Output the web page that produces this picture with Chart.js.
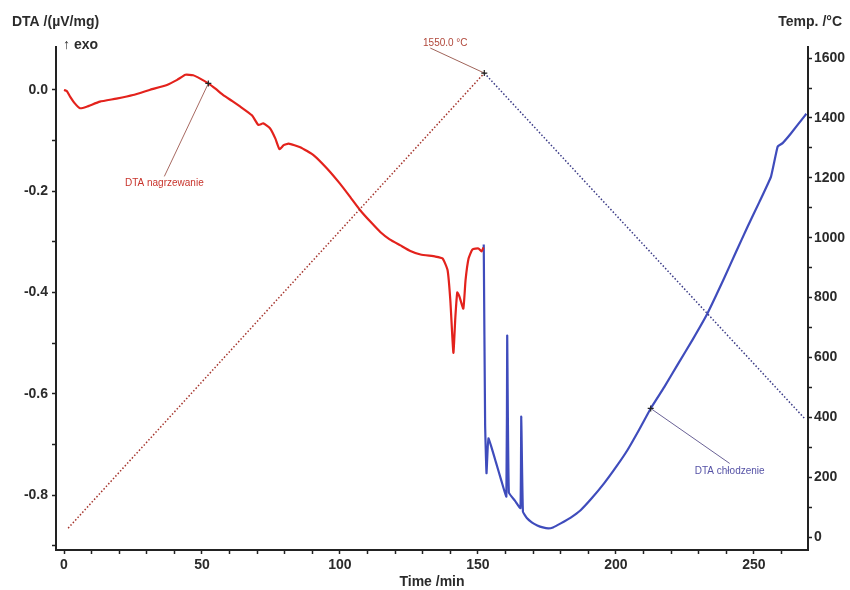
<!DOCTYPE html>
<html>
<head>
<meta charset="utf-8">
<script src="https://cdn.jsdelivr.net/npm/chart.js@4.4.0/dist/chart.umd.min.js"></script>
<style>
  html, body { margin: 0; padding: 0; background: #fff; }
  #wrap { width: 850px; height: 590px; }
</style>
</head>
<body>
<div id="wrap"><canvas id="dtaChart" width="850" height="590"></canvas></div>
<script>
/* ---------- data ---------- */
// DTA signal while heating (µV/mg)
const heatTime = [0, 1, 2.2, 4, 5.8, 8.2, 13, 19, 25, 31, 37.3, 41, 44, 46.8, 49.5, 52.3, 55, 57.7, 61, 63.9,
  68.1, 70.4, 72.2, 74.7, 76.6, 78.1, 79.6, 81.4, 85.6, 90.5, 95.3, 100, 103.8, 107.4, 111, 114.7, 118, 121.9,
  125.5, 129.2, 134.6, 137.2, 139, 140, 141.1, 141.8, 142.5, 143.3, 144.7, 145.5, 146.6, 148, 150.2, 151.3, 152];
const heatDta = [0.0, -0.002, -0.013, -0.027, -0.036, -0.033, -0.023, -0.017, -0.01, 0.0, 0.01, 0.02, 0.03, 0.029,
  0.022, 0.013, 0.002, -0.01, -0.022, -0.033, -0.05, -0.069, -0.066, -0.076, -0.096, -0.117, -0.109, -0.106, -0.113,
  -0.129, -0.155, -0.185, -0.212, -0.238, -0.26, -0.281, -0.295, -0.307, -0.318, -0.325, -0.329, -0.333, -0.356,
  -0.416, -0.519, -0.45, -0.4, -0.408, -0.432, -0.376, -0.333, -0.315, -0.313, -0.319, -0.311];

// DTA signal while cooling
const coolTime = [152.1, 152.6, 153.1, 153.8, 156.5, 158.5, 160.3, 160.6, 161.2, 163.5, 165.4, 165.7, 166.3, 167.8,
  169.5, 171.5, 173.5, 175.5, 177.2, 180, 183.5, 187.2, 191.3, 195.7, 200, 204.2, 208.4, 212.6, 217.5, 222.3, 227.8,
  233.2, 239.2, 243.5, 247.7, 252, 256.2, 258.6, 260.4, 263.4, 267.7, 269];
const coolDta = [-0.305, -0.66, -0.757, -0.688, -0.735, -0.772, -0.803, -0.485, -0.795, -0.812, -0.826, -0.645, -0.833,
  -0.846, -0.854, -0.86, -0.864, -0.866, -0.864, -0.856, -0.845, -0.83, -0.806, -0.777, -0.745, -0.711, -0.671, -0.629,
  -0.587, -0.543, -0.493, -0.441, -0.372, -0.32, -0.27, -0.221, -0.171, -0.112, -0.105, -0.086, -0.056, -0.047];

// furnace temperature programme (°C)
const heatTempTime = [1.5, 152.3];
const heatTemp = [30, 1550];
const coolTempTime = [152.3, 268.5];
const coolTemp = [1550, 395];

// labelled axis values
const timeTicks = [0, 50, 100, 150, 200, 250];
const dtaTicks = [0.0, -0.2, -0.4, -0.6, -0.8];
const tempTicks = [0, 200, 400, 600, 800, 1000, 1200, 1400, 1600];

// annotated points on the curves
const noteText = ['DTA nagrzewanie', '1550.0 \u00B0C', 'DTA ch\u0142odzenie'];
const noteTime = [52.3, 152.3, 212.6];
const noteValue = [0.013, 1550, -0.629];
const noteAxis = ['y', 'y2', 'y'];

/* ---------- look ---------- */
const RED = '#e3221c';
const BLUE = '#3f4cbc';
const AXIS = '#222';
const TXT = '#2b2b2b';
const tickFont = { family: 'Arial, "Liberation Sans", sans-serif', size: 14, weight: 'bold' };

// label box offsets from the anchor point: text centre and leader end
const noteLayout = [
  { dx: -44, dy: 100, lx: -44, ly: 93, color: '#c8342c', line: '#a86a62' },
  { dx: -39, dy: -30, lx: -54, ly: -25, color: '#b0473a', line: '#a0645a' },
  { dx: 79, dy: 63, lx: 79, ly: 55, color: '#5552a6', line: '#6a6296' }
];

function pts(xs, ys) { return xs.map((x, i) => ({ x, y: ys[i] })); }

function stepTicks(from, to, step) {
  const out = [];
  for (let v = from; v <= to + step / 1000; v += step) out.push({ value: Math.round(v * 1000) / 1000 });
  return out;
}
function isMajor(list, v) { return list.some(m => Math.abs(m - v) < 1e-6); }

const axisBase = {
  border: { display: true, color: AXIS, width: 2 },
  grid: { display: true, drawOnChartArea: false, drawTicks: true, tickLength: 4, tickWidth: 1.5, tickColor: AXIS },
};

/* ---------- extra drawing: titles and labels ---------- */
const decorPlugin = {
  id: 'decor',
  beforeDraw(chart) {
    const c = chart.ctx;
    c.save();
    c.fillStyle = '#fff';
    c.fillRect(0, 0, chart.width, chart.height);
    c.restore();
  },
  afterDraw(chart) {
    const c = chart.ctx;
    const area = chart.chartArea;
    c.save();
    c.fillStyle = TXT;
    c.textBaseline = 'middle';
    c.font = 'bold 14px Arial, "Liberation Sans", sans-serif';
    c.textAlign = 'left';
    c.fillText('DTA /(\u00B5V/mg)', 12, 22);
    c.fillText('\u2191 exo', 63, 45);
    c.textAlign = 'right';
    c.fillText('Temp. /\u00B0C', 842, 22);
    c.textAlign = 'center';
    c.fillText('Time /min', (area.left + area.right) / 2, 582);

    // notes with leader lines
    noteText.forEach((txt, i) => {
      const lay = noteLayout[i];
      const px = chart.scales.x.getPixelForValue(noteTime[i]);
      const py = chart.scales[noteAxis[i]].getPixelForValue(noteValue[i]);
      c.strokeStyle = lay.line;
      c.lineWidth = 1;
      c.beginPath();
      c.moveTo(px, py);
      c.lineTo(px + lay.lx, py + lay.ly);
      c.stroke();
      // small cross at the anchor
      c.strokeStyle = '#222';
      c.lineWidth = 1.2;
      c.beginPath();
      c.moveTo(px - 3, py); c.lineTo(px + 3, py);
      c.moveTo(px, py - 3); c.lineTo(px, py + 3);
      c.stroke();
      c.fillStyle = lay.color;
      c.font = '10px Arial, "Liberation Sans", sans-serif';
      c.textAlign = 'center';
      c.fillText(txt, px + lay.dx, py + lay.dy);
    });
    c.restore();
  }
};

/* ---------- chart ---------- */
const ctx = document.getElementById('dtaChart').getContext('2d');
new Chart(ctx, {
  type: 'scatter',
  data: {
    datasets: [
      {
        label: 'Temp. heating',
        data: pts(heatTempTime, heatTemp),
        yAxisID: 'y2',
        showLine: true,
        borderColor: '#a5342c',
        borderWidth: 1.5,
        borderDash: [1.5, 2],
        pointRadius: 0
      },
      {
        label: 'Temp. cooling',
        data: pts(coolTempTime, coolTemp),
        yAxisID: 'y2',
        showLine: true,
        borderColor: '#3a3a86',
        borderWidth: 1.5,
        borderDash: [1.5, 2],
        pointRadius: 0
      },
      {
        label: 'DTA nagrzewanie',
        data: pts(heatTime, heatDta),
        yAxisID: 'y',
        showLine: true,
        borderColor: RED,
        borderWidth: 2.2,
        pointRadius: 0,
        tension: 0.15
      },
      {
        label: 'DTA chłodzenie',
        data: pts(coolTime, coolDta),
        yAxisID: 'y',
        showLine: true,
        borderColor: BLUE,
        borderWidth: 2.2,
        pointRadius: 0,
        tension: 0.1
      }
    ]
  },
  options: {
    responsive: false,
    animation: false,
    devicePixelRatio: 1,
    layout: { padding: { top: 47, left: 0, right: 0, bottom: 0 } },
    plugins: {
      legend: { display: false },
      tooltip: { enabled: false }
    },
    scales: {
      x: {
        ...axisBase,
        type: 'linear',
        position: 'bottom',
        min: -2.9,
        max: 269.6,
        afterBuildTicks: s => { s.ticks = stepTicks(0, 260, 10); },
        afterFit: s => { s.height = 40; },
        ticks: {
          autoSkip: false,
          maxRotation: 0,
          padding: 3,
          color: TXT,
          font: tickFont,
          callback: v => isMajor(timeTicks, v) ? String(v) : ''
        }
      },
      y: {
        ...axisBase,
        type: 'linear',
        position: 'left',
        min: -0.9086,
        max: 0.0849,
        afterBuildTicks: s => { s.ticks = stepTicks(-0.9, 0.0, 0.1); },
        afterFit: s => { s.width = 56; },
        ticks: {
          autoSkip: false,
          padding: 4,
          color: TXT,
          font: tickFont,
          callback: v => isMajor(dtaTicks, v) ? (Math.abs(v) < 1e-9 ? '0.0' : v.toFixed(1)) : ''
        }
      },
      y2: {
        ...axisBase,
        type: 'linear',
        position: 'right',
        min: -43,
        max: 1637,
        afterBuildTicks: s => { s.ticks = stepTicks(0, 1600, 100); },
        afterFit: s => { s.width = 42; },
        ticks: {
          autoSkip: false,
          padding: 2,
          color: TXT,
          font: tickFont,
          callback: v => isMajor(tempTicks, v) ? String(v) : ''
        }
      }
    }
  },
  plugins: [decorPlugin]
});
</script>
</body>
</html>
